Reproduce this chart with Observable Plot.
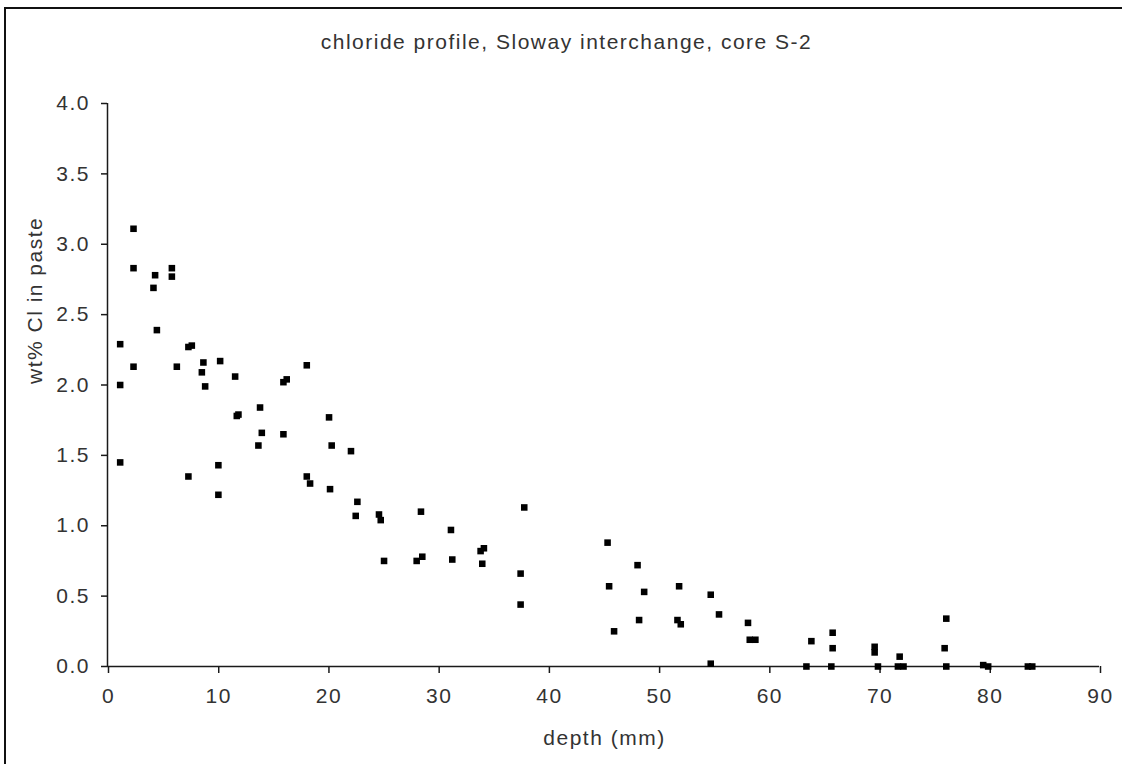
<!DOCTYPE html>
<html>
<head>
<meta charset="utf-8">
<script src="https://cdn.jsdelivr.net/npm/d3@7"></script>
<script src="https://cdn.jsdelivr.net/npm/@observablehq/plot@0.6"></script>
<style>
  html, body { margin: 0; padding: 0; background: #fff; }
  #wrap { position: relative; width: 1122px; height: 764px; overflow: hidden; }
  #frame { position: absolute; left: 4px; top: 7px; width: 1200px; height: 900px;
           border-left: 2px solid #111; border-top: 2px solid #111; box-sizing: border-box; pointer-events: none; }
  svg { font-family: "Liberation Sans", Arial, sans-serif; }
  svg text { letter-spacing: 1.5px; }
</style>
</head>
<body>
<div id="wrap"><div id="frame"></div></div>
<script>
const title = "chloride profile, Sloway interchange, core S-2";
const xLabel = "depth (mm)";
const yLabel = "wt% Cl in paste";
const xTicks = [0, 10, 20, 30, 40, 50, 60, 70, 80, 90];
const yTicks = [0, 0.5, 1.0, 1.5, 2.0, 2.5, 3.0, 3.5, 4.0];

const depth = [
  2.36, 2.36, 4.32, 4.17, 5.84, 5.84, 4.48, 1.15, 1.15, 2.36,
  6.29, 7.34, 7.65, 8.70, 8.56, 8.86, 10.22, 11.58, 15.96, 16.26,
  18.08, 11.73, 11.88, 13.84, 14.00, 13.69, 15.96, 1.15, 7.34, 10.06,
  10.06, 18.08, 18.38, 20.10, 20.34, 20.19, 22.09, 22.67, 22.52, 24.63,
  24.79, 25.09, 28.44, 28.05, 28.56, 31.16, 31.28, 33.85, 34.15, 34.00,
  37.81, 37.48, 37.48, 45.37, 45.51, 45.96, 48.09, 48.69, 48.23, 51.86,
  51.71, 52.01, 54.73, 55.48, 54.73, 58.11, 58.27, 58.78, 63.86, 63.41,
  65.79, 65.79, 65.67, 69.60, 69.60, 69.90, 71.87, 71.71, 72.22, 76.10,
  75.95, 76.10, 79.45, 79.90, 83.50, 83.90
];
const chloride = [
  3.11, 2.83, 2.78, 2.69, 2.83, 2.77, 2.39, 2.29, 2.00, 2.13,
  2.13, 2.27, 2.28, 2.16, 2.09, 1.99, 2.17, 2.06, 2.02, 2.04,
  2.14, 1.78, 1.79, 1.84, 1.66, 1.57, 1.65, 1.45, 1.35, 1.43,
  1.22, 1.35, 1.30, 1.77, 1.57, 1.26, 1.53, 1.17, 1.07, 1.08,
  1.04, 0.75, 1.10, 0.75, 0.78, 0.97, 0.76, 0.82, 0.84, 0.73,
  1.13, 0.66, 0.44, 0.88, 0.57, 0.25, 0.72, 0.53, 0.33, 0.57,
  0.33, 0.30, 0.51, 0.37, 0.02, 0.31, 0.19, 0.19, 0.18, 0.00,
  0.24, 0.13, 0.00, 0.14, 0.10, 0.00, 0.07, 0.00, 0.00, 0.34,
  0.13, 0.00, 0.01, 0.00, 0.00, 0.00
];

const data = depth.map((d, i) => ({depth: d, cl: chloride[i]}));
const ink = "#1a1a1a";

const chart = Plot.plot({
  width: 1122,
  height: 764,
  marginLeft: 107,
  marginRight: 23,
  marginTop: 103,
  marginBottom: 98,
  style: {fontFamily: '"Liberation Sans", Arial, sans-serif', fontSize: "21px", color: ink, background: "transparent"},
  x: {domain: [0, 90]},
  y: {domain: [0, 4]},
  marks: [
    Plot.axisX({ticks: xTicks, tickSize: 7, tickPadding: 15, tickFormat: d3.format("d"), label: null, stroke: ink, strokeWidth: 1.5, fill: "#333", fontSize: 21, dx: 1}),
    Plot.axisY({ticks: yTicks, tickSize: 6, tickPadding: 11.5, tickFormat: d3.format(".1f"), label: null, stroke: ink, strokeWidth: 1.5, fill: "#333", fontSize: 21}),
    Plot.ruleY([0], {stroke: ink, strokeWidth: 1.5}),
    Plot.ruleX([0], {stroke: ink, strokeWidth: 1.5}),
    Plot.dot(data, {x: "depth", y: "cl", symbol: "square", r: 3.7, fill: "#000", stroke: null, clip: false}),
    Plot.text([title], {frameAnchor: "top", dx: -37, dy: -61, lineAnchor: "middle", fontSize: 21, fill: "#333"}),
    Plot.text([xLabel], {frameAnchor: "bottom", dx: 1, dy: 72, lineAnchor: "middle", fontSize: 21, fill: "#333"}),
    Plot.text([yLabel], {frameAnchor: "left", dx: -72, dy: -1, rotate: -90, lineAnchor: "middle", fontSize: 21, fill: "#333"})
  ]
});
document.getElementById("wrap").appendChild(chart);
chart.style.position = "absolute";
chart.style.left = "0px";
chart.style.top = "0px";
</script>
</body>
</html>
